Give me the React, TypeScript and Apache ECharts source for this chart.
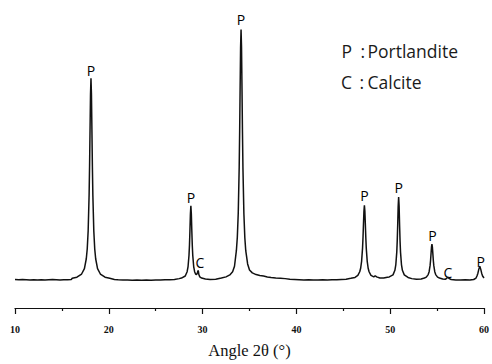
import React, { useEffect, useRef } from "react";
import * as echarts from "echarts";

// Diffractogram trace: [2θ (deg), intensity (a.u.)]
const pattern: [number, number][] = [
  [10, 99], [10.4, 98], [10.8, 99], [11.2, 98], [11.6, 97], [12, 98], [12.4, 97], [12.8, 98],
  [13.2, 97], [13.6, 98], [14, 99], [14.4, 98], [14.8, 97], [15.2, 98], [15.6, 98], [16, 99],
  [16.1, 103], [16.6, 107], [17.1, 118], [17.4, 137], [17.6, 171], [17.7, 205], [17.8, 268],
  [17.9, 392], [17.95, 492], [18.0, 618], [18.05, 742], [18.1, 798], [18.15, 742], [18.2, 618],
  [18.25, 492], [18.3, 392], [18.4, 268], [18.5, 205], [18.6, 171], [18.8, 137], [19.1, 118],
  [19.6, 107], [20.1, 103],
  [20.6, 99], [21.0, 98], [21.5, 97], [22.0, 97], [22.5, 96], [23.0, 97], [23.5, 96], [24.0, 97],
  [24.5, 96], [25.0, 97], [25.5, 97], [26.0, 98], [26.5, 98], [27.0, 99],
  [27.5, 102], [27.75, 104], [28.15, 111], [28.35, 126], [28.45, 144], [28.55, 183], [28.6, 218],
  [28.65, 268], [28.7, 326], [28.75, 355], [28.8, 326], [28.85, 268], [28.9, 218], [28.95, 183],
  [29.05, 144], [29.15, 126], [29.25, 118], [29.35, 116], [29.45, 122], [29.5, 130], [29.55, 128],
  [29.6, 116], [29.7, 108], [29.9, 104], [30.3, 101], [30.8, 99], [31.4, 100],
  [32.0, 104], [32.5, 108], [32.9, 115], [33.2, 126], [33.4, 145], [33.6, 199], [33.7, 245],
  [33.8, 329], [33.9, 487], [33.95, 611], [34.0, 762], [34.05, 905], [34.1, 967], [34.15, 905],
  [34.2, 762], [34.25, 611], [34.3, 487], [34.4, 329], [34.5, 245], [34.6, 199], [34.8, 153],
  [35.0, 132], [35.3, 122], [35.7, 116], [36.1, 113], [36.5, 111], [36.9, 108], [37.3, 106],
  [37.8, 104], [38.3, 103], [38.8, 102], [39.3, 100], [39.8, 99], [40.3, 98], [40.8, 97],
  [41.3, 98], [41.8, 97], [42.3, 97], [42.8, 98], [43.3, 97], [43.8, 98], [44.3, 98], [44.8, 99],
  [45.3, 100],
  [45.8, 103], [46.25, 106], [46.55, 113], [46.75, 126], [46.85, 138], [46.95, 162], [47.05, 207],
  [47.1, 244], [47.15, 291], [47.2, 336], [47.25, 357], [47.3, 336], [47.35, 291], [47.4, 244],
  [47.45, 207], [47.55, 162], [47.65, 138], [47.75, 126], [47.95, 113], [48.25, 108], [48.4, 112],
  [48.55, 108], [48.9, 104], [49.3, 104], [49.7, 107], [49.9, 108], [50.3, 115], [50.5, 131],
  [50.6, 151], [50.7, 194], [50.75, 233], [50.8, 289], [50.85, 353], [50.9, 385], [50.95, 353],
  [51.0, 289], [51.05, 233], [51.1, 194], [51.2, 151], [51.3, 131], [51.5, 115], [51.9, 106],
  [52.3, 102], [52.8, 100],
  [53.3, 101], [53.65, 104], [53.85, 107], [54.05, 116], [54.15, 126], [54.25, 147], [54.3, 164],
  [54.35, 187], [54.4, 211], [54.45, 222], [54.5, 211], [54.55, 187], [54.6, 164], [54.65, 147],
  [54.75, 126], [54.85, 116], [55.05, 107], [55.25, 104], [55.6, 101],
  [55.9, 100], [56.05, 104], [56.15, 107], [56.25, 103], [56.5, 99], [57.0, 97], [57.5, 97],
  [58.0, 98], [58.5, 97], [58.9, 99],
  [59.15, 104], [59.25, 111], [59.35, 121], [59.45, 135], [59.55, 145], [59.65, 135], [59.75, 121],
  [59.85, 111], [60.0, 104],
];

// Phase markers: the label sits just above each anchor point
const markerAngles = [18.1, 28.75, 29.7, 34.1, 47.25, 50.9, 54.5, 56.15, 59.65];
const markerHeights = [800, 358, 134, 976, 368, 395, 226, 100, 138];
const markerTexts = ["P", "P", "C", "P", "P", "P", "P", "C", "P"];

const xTicks = { min: 10, max: 60, interval: 10 };

const phaseKey = [
  { symbol: "P", name: "Portlandite" },
  { symbol: "C", name: "Calcite" },
];

export default function App() {
  const ref = useRef<HTMLDivElement>(null);

  useEffect(() => {
    document.body.style.margin = "0";
    if (!ref.current) return;
    const chart = echarts.init(ref.current, undefined, { renderer: "svg" });
    const ink = "#111111";
    const keyFont = '17.5px "Open Sans"';

    const keyGraphics: any[] = [];
    phaseKey.forEach((k, i) => {
      const y = 51 + i * 31;
      keyGraphics.push(
        { type: "text", x: i === 0 ? 341.5 : 341, y, style: { text: k.symbol, fill: "#1a1a1a", font: keyFont, verticalAlign: "middle" } },
        { type: "text", x: i === 0 ? 360.5 : 359.5, y, style: { text: ":", fill: "#1a1a1a", font: keyFont, verticalAlign: "middle" } },
        { type: "text", x: 367.5, y, style: { text: k.name, fill: "#1a1a1a", font: keyFont, verticalAlign: "middle" } }
      );
    });

    chart.setOption({
      animation: false,
      backgroundColor: "#ffffff",
      grid: { left: 15, right: 5, top: 20, bottom: 48, containLabel: false },
      xAxis: {
        type: "value",
        min: xTicks.min,
        max: xTicks.max,
        interval: xTicks.interval,
        name: "Angle 2θ (°)",
        nameLocation: "middle",
        nameGap: 34,
        nameTextStyle: { fontFamily: '"Liberation Serif"', fontSize: 16.5, color: "#111" },
        axisLine: { show: true, lineStyle: { color: ink, width: 1.2 } },
        axisTick: { show: true, inside: false, length: 6, lineStyle: { color: ink, width: 1.2 } },
        minorTick: { show: true, splitNumber: 2, length: 3, lineStyle: { color: ink, width: 1.2 } },
        axisLabel: {
          margin: 16,
          fontFamily: '"Liberation Serif"',
          fontWeight: "bold",
          fontSize: 10,
          color: "#111",
        },
        splitLine: { show: false },
      },
      yAxis: {
        type: "value",
        min: 0,
        max: 1000,
        show: false,
      },
      series: [
        {
          type: "line",
          data: pattern,
          showSymbol: false,
          symbol: "none",
          lineStyle: { color: ink, width: 1.5 },
          clip: false,
        },
        {
          type: "scatter",
          data: markerAngles.map((a, i) => [a, markerHeights[i]]),
          symbolSize: 0,
          clip: false,
          silent: true,
          itemStyle: { color: "#000", opacity: 1 },
          label: {
            show: true,
            position: "top",
            distance: 0,
            formatter: (p: any) => markerTexts[p.dataIndex],
            fontFamily: '"Open Sans"',
            fontSize: 14,
            color: "#000",
          },
        },
      ],
      graphic: keyGraphics,
    });

    return () => chart.dispose();
  }, []);

  return <div ref={ref} style={{ width: 492, height: 364 }} />;
}
